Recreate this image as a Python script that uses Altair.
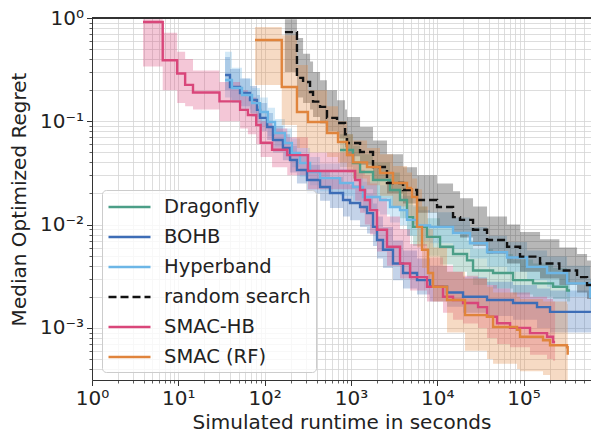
import altair as alt
import pandas as pd

methods = ["Dragonfly", "BOHB", "Hyperband", "random search", "SMAC-HB", "SMAC (RF)"]
colors = ["#4b9e87", "#3d6db6", "#6cb6e6", "#111111", "#d9467a", "#e0843c"]
dashes = [[1, 0], [1, 0], [1, 0], [8, 4], [1, 0], [1, 0]]

# Dragonfly
df_x = [748, 1057, 1276, 1803, 2836, 3706, 4467, 5245, 7614, 10780, 15250, 22150, 26000, 44360, 75530, 128800, 219800, 319100, 346000]
df_med = [0.0527, 0.0395, 0.0323, 0.027, 0.0216, 0.0173, 0.0118, 0.0095, 0.0076, 0.0061, 0.0052, 0.0045, 0.0036, 0.0034, 0.0029, 0.0027, 0.0025, 0.0023, 0.0023]
df_lo = [0.036, 0.028, 0.022, 0.018, 0.0145, 0.0115, 0.0078, 0.0062, 0.005, 0.0041, 0.0035, 0.0031, 0.0026, 0.0024, 0.0021, 0.002, 0.0019, 0.0018, 0.0018]
df_hi = [0.075, 0.058, 0.048, 0.04, 0.032, 0.026, 0.019, 0.015, 0.0115, 0.0093, 0.008, 0.007, 0.0058, 0.0052, 0.0046, 0.0042, 0.0038, 0.0035, 0.0035]

# BOHB
bo_x = [34.8, 39.7, 51.9, 67.7, 81.6, 88.4, 107, 125, 163, 197, 237, 310, 439, 572, 810, 976, 1276, 1537, 1803, 2006, 2353, 3073, 4015, 5835, 8255, 12990, 19910, 37780, 75530, 143300, 202800, 605000]
bo_med = [0.281, 0.215, 0.188, 0.161, 0.129, 0.108, 0.0881, 0.0659, 0.0552, 0.0422, 0.0338, 0.027, 0.0231, 0.0202, 0.0173, 0.0162, 0.0148, 0.0129, 0.0095, 0.0071, 0.0057, 0.0042, 0.0034, 0.0029, 0.0025, 0.0022, 0.002, 0.00186, 0.00174, 0.00159, 0.00143, 0.00143]
bo_lo = [0.2, 0.16, 0.14, 0.12, 0.095, 0.08, 0.066, 0.05, 0.042, 0.032, 0.025, 0.02, 0.017, 0.0145, 0.012, 0.011, 0.0095, 0.0082, 0.0062, 0.0047, 0.0038, 0.0029, 0.0024, 0.0021, 0.0018, 0.0016, 0.0014, 0.0013, 0.0012, 0.001, 0.0009, 0.0009]
bo_hi = [0.42, 0.32, 0.26, 0.22, 0.18, 0.15, 0.12, 0.09, 0.075, 0.058, 0.047, 0.038, 0.033, 0.029, 0.025, 0.024, 0.022, 0.02, 0.016, 0.012, 0.0095, 0.007, 0.0056, 0.0047, 0.004, 0.0035, 0.0031, 0.0028, 0.0026, 0.0024, 0.0023, 0.0023]

# Hyperband
hb_x = [34.8, 41.8, 54.7, 71.5, 88.4, 109, 132, 172, 207, 257, 336, 439, 748, 1057, 1381, 2173, 2836, 3706, 4467, 5835, 8255, 15250, 23990, 37780, 64400, 109800, 187200, 319100, 590000, 605000]
hb_med = [0.251, 0.21, 0.18, 0.15, 0.123, 0.0985, 0.0771, 0.0616, 0.0493, 0.0395, 0.0323, 0.0282, 0.0253, 0.0231, 0.0185, 0.0173, 0.0148, 0.0138, 0.0111, 0.0098, 0.0095, 0.0083, 0.0066, 0.0054, 0.0048, 0.0039, 0.0034, 0.0027, 0.002, 0.002]
hb_lo = [0.17, 0.15, 0.13, 0.11, 0.09, 0.072, 0.057, 0.046, 0.036, 0.029, 0.024, 0.021, 0.019, 0.017, 0.0135, 0.0125, 0.0105, 0.0098, 0.0078, 0.0069, 0.0066, 0.0058, 0.0047, 0.0039, 0.0035, 0.0029, 0.0025, 0.002, 0.0015, 0.0015]
hb_hi = [0.47, 0.33, 0.26, 0.21, 0.17, 0.135, 0.105, 0.085, 0.068, 0.055, 0.045, 0.039, 0.035, 0.032, 0.026, 0.024, 0.021, 0.019, 0.0155, 0.0138, 0.0132, 0.0117, 0.0095, 0.0078, 0.0068, 0.0056, 0.0049, 0.004, 0.003, 0.003]

# random search
rs_x = [172, 237, 279, 336, 364, 439, 528, 690, 855, 901, 1276, 1803, 2618, 4015, 5835, 9952, 15250, 18380, 26000, 37780, 64400, 91060, 155300, 260000, 417000, 544500, 605000]
rs_med = [0.73, 0.263, 0.24, 0.192, 0.155, 0.138, 0.108, 0.0964, 0.075, 0.0616, 0.0504, 0.0361, 0.0253, 0.0216, 0.0173, 0.0148, 0.0118, 0.0111, 0.0089, 0.0071, 0.0061, 0.0049, 0.0042, 0.0036, 0.0031, 0.0026, 0.0026]
rs_lo = [0.3, 0.17, 0.15, 0.13, 0.11, 0.095, 0.08, 0.068, 0.056, 0.046, 0.038, 0.027, 0.02, 0.016, 0.013, 0.0095, 0.0085, 0.0075, 0.0062, 0.0052, 0.0042, 0.0035, 0.003, 0.0026, 0.0022, 0.0019, 0.0019]
rs_hi = [0.97, 0.64, 0.45, 0.38, 0.3, 0.25, 0.2, 0.16, 0.13, 0.11, 0.088, 0.065, 0.048, 0.036, 0.03, 0.025, 0.021, 0.018, 0.015, 0.012, 0.01, 0.0085, 0.0072, 0.006, 0.0052, 0.0045, 0.0045]

# SMAC-HB
sh_x = [3.9, 6.6, 9.7, 12, 14.8, 30, 52, 64, 80, 90, 122, 183, 318, 1120, 1276, 1450, 1665, 2006, 2618, 3706, 4842, 7614, 11670, 15250, 19910, 29700, 37780, 49290, 69800, 118900, 187200, 219800, 232000]
sh_med = [0.915, 0.39, 0.29, 0.225, 0.19, 0.156, 0.129, 0.115, 0.092, 0.062, 0.053, 0.047, 0.033, 0.027, 0.0216, 0.0173, 0.0138, 0.0089, 0.0061, 0.0042, 0.0031, 0.0025, 0.002, 0.00186, 0.00174, 0.00159, 0.00128, 0.00111, 0.001, 0.00089, 0.00082, 0.00073, 0.00073]
sh_lo = [0.34, 0.2, 0.15, 0.14, 0.13, 0.1, 0.085, 0.075, 0.06, 0.045, 0.036, 0.03, 0.022, 0.017, 0.013, 0.01, 0.008, 0.0055, 0.004, 0.003, 0.0023, 0.0018, 0.0014, 0.0012, 0.0011, 0.001, 0.0008, 0.0007, 0.00065, 0.00055, 0.0005, 0.00048, 0.00048]
sh_hi = [0.97, 0.72, 0.47, 0.4, 0.31, 0.24, 0.2, 0.17, 0.14, 0.1, 0.085, 0.07, 0.05, 0.04, 0.034, 0.03, 0.025, 0.018, 0.012, 0.009, 0.0065, 0.0048, 0.004, 0.0035, 0.0032, 0.003, 0.0026, 0.0024, 0.0022, 0.002, 0.0019, 0.0018, 0.0018]

# SMAC (RF)
sr_x = [77.4, 158, 237, 318, 528, 709, 901, 1057, 1537, 2173, 3073, 4467, 5105, 5835, 6669, 7818, 8939, 12990, 21000, 37780, 44360, 84100, 91060, 168300, 202800, 319100, 325000]
sr_med = [0.612, 0.215, 0.123, 0.0985, 0.0771, 0.063, 0.0472, 0.04, 0.0361, 0.0316, 0.0253, 0.0226, 0.0185, 0.0095, 0.0057, 0.0034, 0.0025, 0.00186, 0.00133, 0.00128, 0.00102, 0.00096, 0.00082, 0.00076, 0.00068, 0.00065, 0.00055]
sr_lo = [0.225, 0.092, 0.055, 0.05, 0.045, 0.04, 0.032, 0.028, 0.024, 0.019, 0.015, 0.012, 0.01, 0.006, 0.0038, 0.0025, 0.0018, 0.0009, 0.0006, 0.0005, 0.00045, 0.0004, 0.00038, 0.00035, 0.00031, 0.0003, 0.0003]
sr_hi = [0.82, 0.68, 0.35, 0.2, 0.14, 0.1, 0.075, 0.065, 0.055, 0.048, 0.037, 0.032, 0.028, 0.022, 0.015, 0.009, 0.006, 0.0035, 0.003, 0.0025, 0.0022, 0.002, 0.0019, 0.0018, 0.0018, 0.0017, 0.0017]

series = [
    ("Dragonfly", df_x, df_med, df_lo, df_hi),
    ("BOHB", bo_x, bo_med, bo_lo, bo_hi),
    ("Hyperband", hb_x, hb_med, hb_lo, hb_hi),
    ("random search", rs_x, rs_med, rs_lo, rs_hi),
    ("SMAC-HB", sh_x, sh_med, sh_lo, sh_hi),
    ("SMAC (RF)", sr_x, sr_med, sr_lo, sr_hi),
]
rows = []
for i, (name, xs, med, lo, hi) in enumerate(series):
    for x, m, l, h in zip(xs, med, lo, hi):
        rows.append({"method": name, "order": i, "x": x, "med": m, "lo": l, "hi": h})
data = pd.DataFrame(rows)

x_ticks = [m * 10 ** k for k in range(6) for m in range(1, 10) if m * 10 ** k <= 605000]
y_ticks = [1] + [m / 10 ** k for k in range(1, 5) for m in range(1, 10) if m / 10 ** k >= 3.13e-4]

FONT = "DejaVu Sans"
major_test = "abs(log(datum.value)/LN10 - round(log(datum.value)/LN10)) < 1e-6"
x_label_expr = ("datum.value == 1 ? '10⁰' : datum.value == 10 ? '10¹' : datum.value == 100 ? '10²' : "
                "datum.value == 1000 ? '10³' : datum.value == 10000 ? '10⁴' : datum.value == 100000 ? '10⁵' : ''")
y_label_expr = ("datum.value == 1 ? '10⁰' : datum.value == 0.1 ? '10⁻¹' : datum.value == 0.01 ? '10⁻²' : "
                "datum.value == 0.001 ? '10⁻³' : ''")

common_axis = dict(
    grid=True, gridColor="#d4d4d4", gridWidth=0.8,
    tickSize={"condition": {"test": major_test, "value": 5.5}, "value": 3},
    tickWidth={"condition": {"test": major_test, "value": 1}, "value": 0.8},
    tickColor="#333333", domainColor="#333333", domainWidth=1,
    labelFont=FONT, labelFontSize=20, labelColor="#222222",
    titleFont=FONT, titleFontSize=20, titleFontWeight="normal", titleColor="#222222",
    labelFlush=False, labelOverlap=False,
)

x_axis = alt.Axis(values=x_ticks, labelExpr=x_label_expr, title="Simulated runtime in seconds",
                  labelPadding=3, titlePadding=4, **common_axis)
y_axis = alt.Axis(values=y_ticks, labelExpr=y_label_expr, title="Median Optimized Regret",
                  labelPadding=3, titlePadding=10, **common_axis)

xscale = alt.Scale(type="log", domain=[1, 605000], nice=False)
yscale = alt.Scale(type="log", domain=[3.13e-4, 1], nice=False)
cscale = alt.Scale(domain=methods, range=colors)
# band fills: same colours, domain listed in reverse so this scale stays separate from the legend
fscale = alt.Scale(domain=methods[::-1], range=colors[::-1])
dscale = alt.Scale(domain=methods, range=dashes)

legend_props = dict(
    title=None, orient="none", legendX=10, legendY=172,
    symbolType="M-1,0H3", symbolSize=441, symbolStrokeWidth=2.5, symbolFillColor="transparent",
    labelFont=FONT, labelFontSize=19.5, labelColor="#222222", labelOffset=33,
    rowPadding=8, padding=5, fillColor="rgba(255,255,255,0.8)", strokeColor="#cccccc",
    cornerRadius=4,
)

bands = alt.Chart(data).mark_area(interpolate="step-after", opacity=0.3, clip=True).encode(
    x=alt.X("x:Q", scale=xscale, axis=x_axis),
    y=alt.Y("lo:Q", scale=yscale, axis=y_axis),
    y2="hi:Q",
    fill=alt.Fill("method:N", scale=fscale, legend=None),
    order=alt.Order("order:Q"),
)

lines = alt.Chart(data).mark_line(interpolate="step-after", strokeWidth=2.4, clip=True).encode(
    x=alt.X("x:Q", scale=xscale, axis=x_axis),
    y=alt.Y("med:Q", scale=yscale, axis=y_axis),
    color=alt.Color("method:N", scale=cscale, sort=methods, legend=alt.Legend(**legend_props)),
    strokeDash=alt.StrokeDash("method:N", scale=dscale, sort=methods, legend=alt.Legend(**legend_props)),
    order=alt.Order("x:Q"),
)

top_spine = alt.Chart(data).mark_rule(color="#333333", strokeWidth=1).encode(
    x=alt.value(0), x2=alt.value(499), y=alt.value(0)
)

chart = alt.layer(bands, lines, top_spine).properties(
    width=499, height=362,
    autosize=alt.AutoSizeParams(type="none"),
    padding={"left": 92, "top": 18, "right": 0, "bottom": 55},
).configure(background="white").configure_view(stroke=None)

chart.save("out.html", embed_options={"renderer": "svg", "actions": False})
